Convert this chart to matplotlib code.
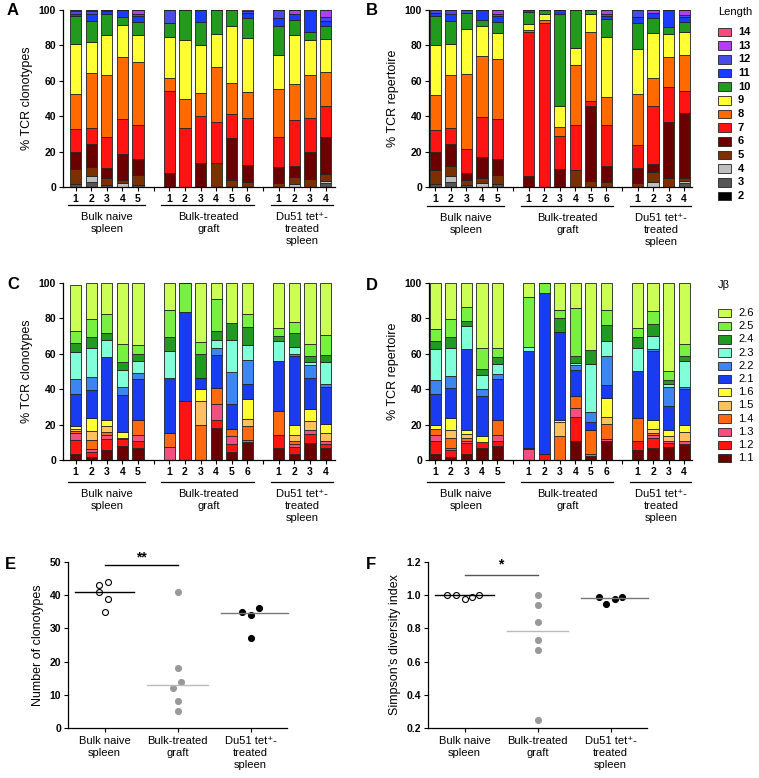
import matplotlib
matplotlib.use("Agg")
import matplotlib.pyplot as plt
import numpy as np
from matplotlib.patches import Rectangle

plt.rcParams['font.family'] = ['Liberation Sans', 'DejaVu Sans']

W, H = 759, 778

groups = ["Bulk naive\nspleen", "Bulk-treated\ngraft", "Du51 tet\u207a-\ntreated\nspleen"]
group_sizes = [5, 6, 4]

length_labels = ["2", "3", "4", "5", "6", "7", "8", "9", "10", "11", "12", "13", "14"]
length_colors = ['#000000', '#555555', '#bfbfbf', '#7a3000', '#6b0000', '#ff1414', '#ff6a00',
                 '#ffff33', '#229a1e', '#1a3cff', '#4a4ae6', '#b040f0', '#f04c7c']
jb_labels = ["1.1", "1.2", "1.3", "1.4", "1.5", "1.6", "2.1", "2.2", "2.3", "2.4", "2.5", "2.6"]
jb_colors = ['#6b0000', '#ff1414', '#f24f80', '#ff6a10', '#ffc060', '#ffff33',
             '#1a3cf0', '#3d85f0', '#80ffd8', '#229922', '#77f040', '#ccff55']

# % TCR clonotypes per CDR3 length (cols = length 2..14), one row per mouse
len_clono = [
    [0, 1.5, 0, 8.5, 10, 12.5, 20, 28.5, 15.5, 1.5, 1.5, 0.5, 0],
    [0, 3, 3, 5.5, 13, 9, 31, 17.5, 12, 4, 1.5, 0.5, 0],
    [0, 1, 0, 4, 5.5, 17.5, 35, 23, 12, 1.5, 0.5, 0, 0],
    [0, 0, 2, 2, 14.5, 20, 35, 18, 4.5, 4, 0, 0, 0],
    [0, 1, 0, 5.5, 9.5, 19, 35.5, 15.5, 7, 3.5, 1.5, 2, 0],
    [0, 0, 0, 0, 8, 46, 7.5, 23.5, 7.5, 0, 7.5, 0, 0],
    [0, 0, 0, 0, 0, 33.5, 16.5, 33, 17, 0, 0, 0, 0],
    [0, 0, 0, 0, 13.5, 26.5, 13, 27, 13, 7, 0, 0, 0],
    [0, 0, 0, 13.5, 0, 23, 31.5, 18.5, 13.5, 0, 0, 0, 0],
    [0, 0, 0, 4, 23.5, 13.5, 18, 32, 9, 0, 0, 0, 0],
    [0, 0, 0, 3, 9.5, 26.5, 14.5, 30.5, 11.5, 3, 1, 0, 0.5],
    [0, 0, 0, 2.5, 9, 16.5, 27.5, 19, 16.5, 4.5, 4.5, 0, 0],
    [0, 0, 1.5, 4, 6.5, 26, 20, 28, 8.5, 3.5, 0, 2, 0],
    [0, 0, 0, 4.5, 15, 19.5, 24.5, 19.5, 4.5, 12.5, 0, 0, 0],
    [0, 2, 1.5, 4, 20.5, 18, 19, 18.5, 7.5, 3, 2, 4, 0],
]

# % TCR repertoire per CDR3 length
len_rep = [
    [0, 1.5, 0, 8, 10, 12.5, 20, 28.5, 16, 2, 1.5, 0, 0],
    [0, 3, 3, 6, 12.5, 9, 30, 17.5, 13, 4, 2, 0, 0],
    [0, 1, 0, 3, 4, 13.5, 42.5, 25, 9.5, 0, 1.5, 0, 0],
    [0, 0, 2, 3, 12, 22.5, 34.5, 17, 3.5, 5.5, 0, 0, 0],
    [0, 1.5, 0, 5, 9.5, 22.5, 34, 14.5, 6.5, 3, 1.5, 2, 0],
    [0, 0, 0, 0, 6, 81.5, 1, 3.5, 7, 1, 0, 0, 0],
    [0, 0, 0, 0, 0, 92.5, 2, 3.5, 2, 0, 0, 0, 0],
    [0, 0, 0, 0, 10, 19, 5, 12, 51.5, 2.5, 0, 0, 0],
    [0, 0, 0, 9.5, 0, 25.5, 34, 9.5, 21.5, 0, 0, 0, 0],
    [0, 0, 0, 3.5, 42, 3, 39, 10, 2.5, 0, 0, 0, 0],
    [0, 0, 0, 3, 9, 23, 16, 33.5, 10.5, 1.5, 1, 2.5, 0],
    [0, 0, 0, 2, 9, 13, 28.5, 25.5, 14.5, 3.5, 4, 0, 0],
    [0, 0, 3, 5.5, 4.5, 33, 15.5, 25.5, 8.5, 3, 0, 1.5, 0],
    [0, 0, 0, 5, 32, 19.5, 17, 13, 4, 9.5, 0, 0, 0],
    [0, 2, 1.5, 1.5, 37, 12.5, 20, 13, 5.5, 3, 1, 3, 0],
]

# % TCR clonotypes per Jbeta (cols = 1.1..2.6)
jb_clono = [
    [3.5, 8, 3.5, 1.5, 1, 1.5, 18.5, 8.5, 15, 5, 7, 26],
    [1.5, 3, 1.5, 5.5, 5, 7, 16, 7.5, 16, 6.5, 10, 20.5],
    [5.5, 6.5, 2, 2, 3, 3.5, 35.5, 0, 10, 4, 10.5, 17.5],
    [8, 4, 0.5, 0, 0, 3.5, 21, 4, 10, 4.5, 10, 34.5],
    [7, 3.5, 3.5, 8.5, 0, 0, 23, 3.5, 7, 4, 5, 35],
    [0, 0, 7.5, 8, 0, 0, 31, 0, 15, 8, 15.5, 15],
    [0, 33.5, 0, 0, 0, 0, 50, 0, 0, 0, 16.5, 0],
    [0, 0, 0, 20, 13.5, 6.5, 6.5, 0, 0, 13.5, 6.5, 33.5],
    [18, 4.5, 9, 9, 0, 0, 19, 4, 4.5, 5, 18, 9],
    [4.5, 4.5, 4.5, 4, 0, 0, 14, 18.5, 18, 9.5, 0, 22.5],
    [10, 0, 1.5, 7.5, 4, 11.5, 8.5, 13.5, 8.5, 10, 7.5, 17.5],
    [7, 7, 0, 13.5, 0, 0, 28.5, 0, 11.5, 2.5, 4.5, 25.5],
    [3.5, 4, 1.5, 1.5, 3.5, 6, 38.5, 1.5, 4, 8, 6, 22],
    [9.5, 5, 2.5, 0, 5, 7, 17.5, 7, 2, 3, 7, 34.5],
    [6.5, 2.5, 2, 0, 4, 5.5, 20.5, 2, 12.5, 4, 11, 29.5],
]

# % TCR repertoire per Jbeta
jb_rep = [
    [3.5, 7.5, 3, 3.5, 0, 2, 18, 7.5, 17.5, 5, 6.5, 26],
    [1.5, 4, 1.5, 5.5, 4.5, 7, 16.5, 7, 16, 6, 10, 20.5],
    [3.5, 6, 1.5, 1.5, 2, 2.5, 45.5, 0, 13, 3, 8, 13.5],
    [7, 3, 0, 0, 0, 3.5, 22.5, 4, 8, 3.5, 12, 36.5],
    [8, 3, 3, 8.5, 0, 0, 23, 3, 6, 3.5, 5, 37],
    [0, 0, 6, 1, 0, 0, 54.5, 0, 2.5, 0, 28, 8],
    [0, 3.5, 0, 0, 0, 0, 91, 0, 0, 0, 5.5, 0],
    [0, 0, 0, 13.5, 8, 1, 50, 0, 0, 7.5, 5, 15],
    [10.5, 14, 5, 6.5, 0, 0, 15, 2.5, 1.5, 3.5, 27.5, 14],
    [2, 0, 1.5, 13.5, 0, 0, 4.5, 5.5, 27, 8, 0, 38],
    [10.5, 0, 1.5, 8.5, 4, 10.5, 7.5, 16, 9, 9, 8, 15.5],
    [5.5, 5.5, 0, 13, 0, 0, 26.5, 0, 13, 6, 5, 25.5],
    [7, 5.5, 1.5, 1, 2.5, 5, 39, 1, 7.5, 7, 7, 16],
    [7.5, 2, 1.5, 0, 2.5, 3.5, 13.5, 11, 1.5, 2, 5.5, 49.5],
    [8.5, 0.5, 1.5, 0, 5.5, 4, 20, 1.5, 14.5, 2.5, 7, 34.5],
]

# panel E/F: per-mouse values and their horizontal jitter
clono_naive = [43, 41, 44, 39, 35]
clono_graft = [41, 18, 14, 12, 8, 5]
clono_du51 = [35, 34, 36, 27]
clono_naive_jit = [-0.07, -0.07, 0.05, 0.05, 0.0]
clono_graft_jit = [0, 0, 0.05, -0.06, 0, 0]
clono_du51_jit = [-0.11, 0.0, 0.11, 0.0]
clono_median = [41, 13, 34.5]

simp_naive = [1.0, 1.0, 0.98, 0.99, 1.0]
simp_graft = [1.0, 0.94, 0.84, 0.73, 0.67, 0.25]
simp_du51 = [0.99, 0.95, 0.98, 0.99]
simp_naive_jit = [-0.24, -0.12, 0.0, 0.1, 0.2]
simp_graft_jit = [0, 0, 0, 0, 0, 0]
simp_du51_jit = [-0.16, -0.06, 0.06, 0.16]
simp_median = [1.0, 0.785, 0.985]


def px_box(l, t, r, b):
    return [l / W, 1 - b / H, (r - l) / W, (b - t) / H]


fig = plt.figure(figsize=(W / 100, H / 100), dpi=100)

# bar positions: one empty slot between groups
pos, starts, tick_lab = [], [], []
s = 0
for n in group_sizes:
    starts.append(s)
    pos += list(range(s, s + n))
    tick_lab += [str(k + 1) for k in range(n)] + [""]
    s += n + 1
tick_lab = tick_lab[:-1]
pos = np.array(pos)
tick_pos = np.arange(len(tick_lab))


def style_axis(ax):
    for sp in ['top', 'right']:
        ax.spines[sp].set_visible(False)
    for sp in ['left', 'bottom']:
        ax.spines[sp].set_linewidth(0.9)
    ax.tick_params(direction='out', length=3, width=0.8, labelsize=7.5, pad=2)
    for lab in ax.get_yticklabels():
        lab.set_fontweight('bold')


def stacked(box, rows, colors, ylabel, xlim, uline):
    ax = fig.add_axes(px_box(*box))
    rows = np.array(rows, dtype=float)
    bottom = np.zeros(len(rows))
    for j, c in enumerate(colors):
        ax.bar(pos, rows[:, j], bottom=bottom, width=0.72, color=c,
               edgecolor='#222222', linewidth=0.6)
        bottom += rows[:, j]
    ax.set_xlim(*xlim)
    ax.set_ylim(0, 100)
    ax.set_yticks(range(0, 101, 20))
    ax.set_xticks(tick_pos)
    ax.set_xticklabels(tick_lab, fontweight='bold')
    ax.set_ylabel(ylabel, fontsize=9, labelpad=4)
    style_axis(ax)
    tr = ax.get_xaxis_transform()
    for st, n, name in zip(starts, group_sizes, groups):
        ax.plot([st - 0.5, st + n - 1 + 0.45], [uline, uline], transform=tr,
                clip_on=False, color='black', lw=0.9)
        ax.text(st + (n - 1) / 2, uline - 0.04, name, transform=tr, ha='center',
                va='top', fontsize=8, linespacing=1.25)
    return ax


stacked((63, 10, 335, 187), len_clono, length_colors, "% TCR clonotypes", (-0.8, 16.6), -0.10)
stacked((429, 10, 692, 187), len_rep, length_colors, "% TCR repertoire", (-0.4, 16.5), -0.105)
stacked((63, 283, 335, 460), jb_clono, jb_colors, "% TCR clonotypes", (-0.8, 16.6), -0.125)
stacked((429, 283, 692, 460), jb_rep, jb_colors, "% TCR repertoire", (-0.4, 16.5), -0.125)


def dots(box, vals, jits, medians, ylim, yticks, ylabel, fmt, sig_y, star_y, star, sig_color):
    ax = fig.add_axes(px_box(*box))
    styles = [dict(mfc='white', mec='black'), dict(mfc='#999999', mec='#999999'),
              dict(mfc='black', mec='black')]
    med_colors = ['black', '#bbbbbb', '#777777']
    med_span = [(-0.4, 0.4), (-0.42, 0.42), (-0.4, 0.52)]
    for i in range(3):
        xs = i + np.array(jits[i])
        ax.plot(xs, vals[i], 'o', ms=4.3, mew=0.8, ls='none', clip_on=False, **styles[i])
        ax.plot([i + med_span[i][0], i + med_span[i][1]], [medians[i]] * 2,
                color=med_colors[i], lw=1.0, clip_on=False)
    ax.plot([0, 1], [sig_y, sig_y], color=sig_color, lw=1.0, clip_on=False)
    ax.text(0.5, star_y, star, ha='center', va='center', fontsize=10, fontweight='bold')
    ax.set_xlim(-0.5, 2.5)
    ax.set_ylim(*ylim)
    ax.set_yticks(yticks)
    ax.set_yticklabels([fmt % v for v in yticks])
    ax.set_xticks([0, 1, 2])
    ax.set_xticklabels(groups, fontsize=8, linespacing=1.2, va='top')
    ax.set_ylabel(ylabel, fontsize=9, labelpad=4)
    style_axis(ax)
    ax.tick_params(axis='x', labelsize=8, pad=3)
    return ax


dots((68, 562, 287, 728), [clono_naive, clono_graft, clono_du51],
     [clono_naive_jit, clono_graft_jit, clono_du51_jit], clono_median,
     (0, 50), [0, 10, 20, 30, 40, 50], "Number of clonotypes", "%d", 49, 51.5, "**", 'black')
dots((428, 562, 647, 728), [simp_naive, simp_graft, simp_du51],
     [simp_naive_jit, simp_graft_jit, simp_du51_jit], simp_median,
     (0.2, 1.2), [0.2, 0.4, 0.6, 0.8, 1.0, 1.2], "Simpson\u2019s diversity index", "%.1f",
     1.12, 1.185, "*", '#555555')

# panel letters
for letter, (x, y) in zip("ABCDEF", [(7, 3), (366, 3), (7, 277), (366, 278), (5, 557), (366, 557)]):
    fig.text(x / W, 1 - y / H, letter, fontsize=12, fontweight='bold', va='top', ha='left')


def legend(title, title_xy, labels, colors, y0, pitch, bold):
    fig.text(title_xy[0] / W, 1 - title_xy[1] / H, title, fontsize=8, ha='center', va='center')
    for i, (lab, c) in enumerate(zip(labels[::-1], colors[::-1])):
        y = y0 + i * pitch
        fig.add_artist(Rectangle((718 / W, 1 - (y + 4.2) / H), 13 / W, 8.4 / H,
                                 transform=fig.transFigure, facecolor=c,
                                 edgecolor='#222222', lw=0.6))
        fig.text(738 / W, 1 - y / H, lab, fontsize=8, va='center', ha='left',
                 fontweight='bold' if bold else 'normal')


legend("Length", (735, 12), length_labels, length_colors, 32, 13.67, True)
legend("J\u03b2", (724, 285), jb_labels, jb_colors, 313, 13.2, False)

fig.savefig("out.png", dpi=100)
